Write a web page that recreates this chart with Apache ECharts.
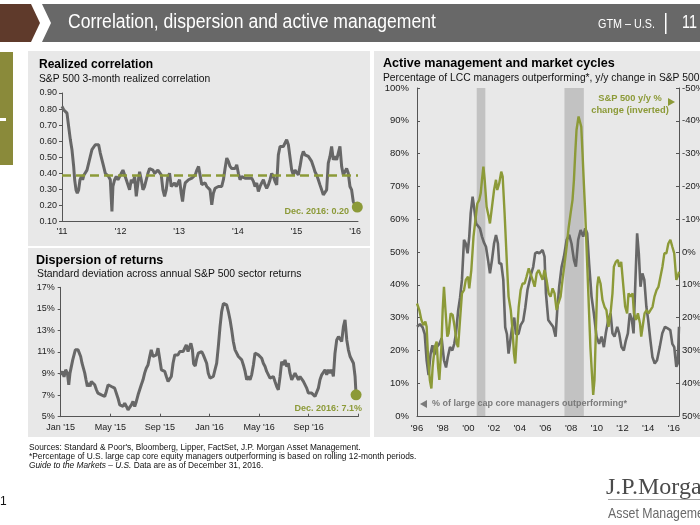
<!DOCTYPE html>
<html><head><meta charset="utf-8">
<script src="https://cdn.jsdelivr.net/npm/echarts@6/dist/echarts.min.js"></script>
<style>html,body{margin:0;padding:0;background:#fff}#c{width:700px;height:525px}</style>
</head><body><div id="c"></div>
<script>
// ---------- DATA ----------
const corrTicks = ["'11","'12","'13","'14","'15","'16"];
const corrAverage = 0.39;
const corrSeries = [[2011.000,0.817],[2011.028,0.796],[2011.057,0.80],[2011.085,0.775],[2011.114,0.69],[2011.142,0.61],[2011.170,0.547],[2011.199,0.443],[2011.216,0.36],[2011.239,0.297],[2011.261,0.276],[2011.284,0.297],[2011.307,0.36],[2011.330,0.38],[2011.352,0.36],[2011.375,0.39],[2011.398,0.38],[2011.426,0.42],[2011.455,0.463],[2011.483,0.505],[2011.511,0.547],[2011.540,0.536],[2011.568,0.578],[2011.597,0.588],[2011.625,0.578],[2011.653,0.526],[2011.682,0.484],[2011.710,0.443],[2011.739,0.40],[2011.767,0.39],[2011.795,0.38],[2011.824,0.36],[2011.852,0.162],[2011.869,0.318],[2011.898,0.36],[2011.926,0.38],[2011.955,0.36],[2011.983,0.38],[2012.011,0.40],[2012.040,0.42],[2012.068,0.43],[2012.097,0.36],[2012.125,0.37],[2012.153,0.297],[2012.182,0.36],[2012.210,0.34],[2012.239,0.38],[2012.267,0.256],[2012.295,0.34],[2012.324,0.41],[2012.352,0.36],[2012.381,0.297],[2012.409,0.318],[2012.438,0.36],[2012.466,0.40],[2012.494,0.43],[2012.523,0.43],[2012.551,0.42],[2012.580,0.40],[2012.608,0.41],[2012.636,0.42],[2012.665,0.41],[2012.693,0.39],[2012.722,0.297],[2012.750,0.256],[2012.778,0.297],[2012.807,0.38],[2012.835,0.40],[2012.864,0.318],[2012.892,0.318],[2012.920,0.34],[2012.949,0.318],[2012.977,0.318],[2013.006,0.36],[2013.034,0.276],[2013.057,0.224],[2013.080,0.297],[2013.102,0.34],[2013.131,0.35],[2013.159,0.36],[2013.188,0.36],[2013.216,0.37],[2013.244,0.38],[2013.273,0.39],[2013.301,0.42],[2013.330,0.443],[2013.384,0.33],[2013.413,0.318],[2013.441,0.34],[2013.470,0.318],[2013.498,0.328],[2013.526,0.297],[2013.555,0.204],[2013.583,0.276],[2013.612,0.307],[2013.640,0.307],[2013.668,0.318],[2013.697,0.307],[2013.725,0.318],[2013.754,0.36],[2013.782,0.43],[2013.811,0.495],[2013.839,0.474],[2013.867,0.443],[2013.896,0.43],[2013.924,0.42],[2013.953,0.43],[2013.981,0.453],[2014.009,0.40],[2014.038,0.36],[2014.066,0.38],[2014.095,0.37],[2014.123,0.37],[2014.151,0.38],[2014.180,0.37],[2014.208,0.36],[2014.237,0.37],[2014.265,0.35],[2014.293,0.318],[2014.322,0.34],[2014.350,0.287],[2014.379,0.318],[2014.407,0.34],[2014.436,0.36],[2014.464,0.328],[2014.492,0.307],[2014.521,0.328],[2014.549,0.36],[2014.578,0.40],[2014.606,0.38],[2014.634,0.35],[2014.663,0.328],[2014.691,0.515],[2014.720,0.567],[2014.748,0.578],[2014.776,0.567],[2014.805,0.578],[2014.833,0.609],[2014.862,0.578],[2014.890,0.567],[2014.919,0.42],[2014.947,0.39],[2014.975,0.42],[2015.004,0.41],[2015.032,0.39],[2015.061,0.443],[2015.089,0.505],[2015.117,0.536],[2015.146,0.515],[2015.174,0.515],[2015.203,0.505],[2015.231,0.495],[2015.259,0.474],[2015.288,0.443],[2015.316,0.41],[2015.345,0.39],[2015.373,0.36],[2015.401,0.328],[2015.430,0.297],[2015.458,0.266],[2015.487,0.266],[2015.515,0.297],[2015.543,0.463],[2015.572,0.505],[2015.600,0.567],[2015.629,0.484],[2015.657,0.505],[2015.685,0.484],[2015.714,0.484],[2015.742,0.567],[2015.771,0.443],[2015.799,0.39],[2015.827,0.40],[2015.856,0.43],[2015.884,0.40],[2015.913,0.318],[2015.941,0.297],[2015.969,0.224],[2015.998,0.204],[2016.038,0.19]];

const dispTicks = ["Jan '15","May '15","Sep '15","Jan '16","May '16","Sep '16"];
const dispSeries = [[0,8.88],[0.13,9.2],[0.27,8.7],[0.4,9.35],[0.54,9.04],[0.65,7.96],[0.75,9.04],[0.86,8.88],[0.97,10.27],[1.08,10.27],[1.18,11.2],[1.29,11.04],[1.4,11.2],[1.5,11.35],[1.61,10.58],[1.72,9.96],[1.83,9.5],[1.94,9.04],[2.04,8.42],[2.15,7.8],[2.26,8.11],[2.37,7.8],[2.47,8.27],[2.6,8.42],[2.74,7.96],[2.88,7.5],[3.0,7.19],[3.15,7.19],[3.28,7.03],[3.41,7.19],[3.55,6.88],[3.68,7.34],[3.82,7.96],[3.95,8.11],[4.09,7.8],[4.22,7.8],[4.35,7.65],[4.5,7.5],[4.62,6.72],[4.76,6.1],[4.9,6.26],[5.03,5.95],[5.16,6.26],[5.3,5.95],[5.43,5.64],[5.56,5.8],[5.7,6.1],[5.83,6.41],[5.97,5.95],[6.1,6.41],[6.24,7.03],[6.37,7.5],[6.5,7.96],[6.64,8.42],[6.77,9.04],[6.9,9.5],[7.04,9.8],[7.18,10.58],[7.3,11.2],[7.45,10.58],[7.58,10.42],[7.71,10.73],[7.85,11.35],[7.98,11.2],[8.12,9.35],[8.25,9.2],[8.39,9.2],[8.52,8.73],[8.66,8.27],[8.79,8.42],[8.92,8.73],[9.06,9.96],[9.2,10.73],[9.33,10.89],[9.46,10.73],[9.6,11.04],[9.73,11.2],[9.87,11.04],[10.0,11.35],[10.13,11.66],[10.27,11.04],[10.4,11.5],[10.5,11.8],[10.62,11.2],[10.72,9.9],[10.85,9.7],[10.97,10.4],[11.1,10.89],[11.24,10.73],[11.37,11.04],[11.5,10.73],[11.64,10.58],[11.77,9.96],[11.9,9.04],[12.04,8.58],[12.18,8.42],[12.31,8.73],[12.44,9.35],[12.58,9.96],[12.71,11.5],[12.85,13.36],[12.98,14.75],[13.12,15.5],[13.25,15.67],[13.39,15.36],[13.52,14.75],[13.66,13.97],[13.79,13.05],[13.92,11.97],[14.06,11.2],[14.2,11.04],[14.33,10.58],[14.46,10.58],[14.6,10.27],[14.73,9.8],[14.87,9.2],[15.0,8.42],[15.13,8.73],[15.27,8.42],[15.4,8.88],[15.54,9.8],[15.67,10.89],[15.8,11.04],[15.94,10.73],[16.07,10.73],[16.21,10.42],[16.34,9.96],[16.48,9.65],[16.61,9.2],[16.75,8.88],[16.88,8.58],[17.02,8.58],[17.15,8.73],[17.28,8.27],[17.42,7.8],[17.55,7.5],[17.69,8.73],[17.82,10.11],[17.96,9.8],[18.09,10.27],[18.23,9.65],[18.36,9.96],[18.49,9.04],[18.63,8.42],[18.76,8.73],[18.9,9.04],[19.03,8.88],[19.17,8.42],[19.3,8.73],[19.44,8.88],[19.57,8.27],[19.7,8.11],[19.84,7.65],[19.97,7.19],[20.11,7.03],[20.24,7.19],[20.38,7.03],[20.51,6.88],[20.64,6.88],[20.78,7.65],[20.91,8.42],[21.05,8.88],[21.18,8.88],[21.32,9.35],[21.45,8.88],[21.59,9.35],[21.72,9.04],[21.86,9.35],[21.99,8.73],[22.12,10.89],[22.26,12.12],[22.4,12.43],[22.53,12.28],[22.66,11.97],[22.8,13.36],[22.93,13.97],[23.07,12.12],[23.2,11.2],[23.34,10.58],[23.47,10.42],[23.61,9.96],[23.74,8.73],[23.82,7.03]];

const activeTicks = ["'96","'98","'00","'02","'04","'06","'08","'10","'12","'14","'16"];
const recessions = [[2000.65, 2001.32], [2007.48, 2008.99]];
const managersOutperforming = [[1996.0,27.2],[1996.23,28],[1996.44,27],[1996.6,25],[1996.75,17],[1996.9,12.5],[1997.06,19],[1997.2,21.6],[1997.35,18.6],[1997.53,21],[1997.74,22],[1997.92,23.7],[1998.1,17],[1998.26,14.8],[1998.4,18],[1998.57,21],[1998.75,20],[1998.9,22],[1999.03,25],[1999.2,32],[1999.35,36],[1999.5,41.5],[1999.66,53.7],[1999.8,52.6],[1999.94,49.6],[2000.07,54.7],[2000.18,61.8],[2000.33,66.9],[2000.44,63.8],[2000.6,58.7],[2000.75,58.7],[2000.9,57.2],[2001.06,54.7],[2001.2,53],[2001.37,51.6],[2001.53,47.6],[2001.68,43.5],[2001.84,47.6],[2002.0,52.6],[2002.15,55.2],[2002.3,52.6],[2002.4,46.5],[2002.56,46.5],[2002.72,41.5],[2002.87,27],[2003.0,25],[2003.13,19],[2003.3,24],[2003.44,28],[2003.57,30],[2003.7,25],[2003.9,25],[2004.07,27.7],[2004.27,29],[2004.43,33],[2004.6,38.4],[2004.74,38.4],[2004.9,43.5],[2005.05,45.5],[2005.2,49.6],[2005.36,50],[2005.52,49.6],[2005.78,50.6],[2005.93,48.6],[2006.04,37.4],[2006.22,29.3],[2006.4,28.3],[2006.6,27.2],[2006.79,24.2],[2006.92,32.3],[2007.07,39.4],[2007.26,45.5],[2007.44,48.6],[2007.65,53.7],[2007.85,55.2],[2008.03,52.6],[2008.22,47.6],[2008.37,45.5],[2008.55,53.7],[2008.74,56.7],[2008.94,54.7],[2009.1,57.2],[2009.25,55.7],[2009.4,46.5],[2009.59,36.4],[2009.77,31.3],[2009.98,24.2],[2010.18,22],[2010.37,24.2],[2010.55,21],[2010.7,25.2],[2010.89,29.3],[2011.07,31.3],[2011.22,25.2],[2011.38,24.2],[2011.59,27.2],[2011.74,25.2],[2011.92,21],[2012.1,20],[2012.26,23],[2012.42,25.2],[2012.57,31.3],[2012.73,29.3],[2012.86,25.2],[2012.99,39.4],[2013.14,55.7],[2013.27,49.6],[2013.4,39.4],[2013.55,43.5],[2013.7,41.5],[2013.86,33.3],[2014.0,29.3],[2014.17,23.2],[2014.33,18],[2014.51,16],[2014.69,17],[2014.9,21],[2015.1,25.2],[2015.31,27.2],[2015.52,26.7],[2015.72,26.2],[2015.88,22],[2016.03,21],[2016.19,15],[2016.3,16],[2016.4,27.2]];
const spxYoY = [[1996.0,15.7],[1996.18,17.7],[1996.34,20.7],[1996.5,22.3],[1996.65,21.2],[1996.75,22.8],[1996.86,32],[1997.0,39],[1997.12,41.6],[1997.22,35],[1997.38,29],[1997.53,27.3],[1997.64,35],[1997.74,39],[1997.9,29],[1998.0,17.7],[1998.1,10.6],[1998.2,16.7],[1998.36,25.8],[1998.46,24.8],[1998.62,18.7],[1998.78,19.2],[1998.93,22.8],[1999.1,28],[1999.2,29],[1999.35,20.7],[1999.5,12.6],[1999.66,11.6],[1999.8,8.5],[1999.97,7.5],[2000.07,11.1],[2000.23,5.5],[2000.4,-4.7],[2000.55,-9.8],[2000.7,-14.8],[2000.85,-15.9],[2000.96,-17.9],[2001.06,-22],[2001.17,-26],[2001.27,-22],[2001.42,-13.8],[2001.58,-10.8],[2001.68,-8.7],[2001.84,-13.8],[2002.0,-18.9],[2002.15,-22],[2002.25,-18.9],[2002.4,-20.9],[2002.56,-24.5],[2002.67,-23],[2002.82,-11.8],[2003.0,3.5],[2003.13,13.6],[2003.3,17.7],[2003.44,23.8],[2003.55,31],[2003.65,34],[2003.77,25.8],[2003.92,16.7],[2004.07,11.6],[2004.22,9.6],[2004.38,9.6],[2004.53,7.5],[2004.7,5],[2004.85,5.5],[2005.0,8.5],[2005.16,10.6],[2005.32,6.5],[2005.47,5.5],[2005.6,6],[2005.78,8.5],[2005.93,5.5],[2006.09,8.5],[2006.25,12.6],[2006.4,13.6],[2006.56,11.1],[2006.71,12.6],[2006.87,17.7],[2007.0,15.7],[2007.18,13.6],[2007.33,8.5],[2007.49,3.5],[2007.65,-1.6],[2007.8,-7.2],[2007.96,-11.8],[2008.11,-15.9],[2008.22,-22],[2008.32,-30],[2008.42,-37.2],[2008.58,-41.3],[2008.68,-41.3],[2008.79,-38.2],[2008.89,-30],[2008.99,-21],[2009.1,-11.8],[2009.2,-1.6],[2009.3,8.5],[2009.4,18.7],[2009.5,29],[2009.62,37],[2009.72,43.6],[2009.82,39],[2009.93,23.8],[2010.03,10.6],[2010.13,7.5],[2010.29,9.6],[2010.44,14.6],[2010.6,16.7],[2010.75,17.7],[2010.91,22.8],[2011.07,18.7],[2011.22,12.6],[2011.33,4.5],[2011.48,3],[2011.64,2.4],[2011.74,4.5],[2011.9,3],[2012.05,3.5],[2012.21,16.7],[2012.36,18.7],[2012.47,12.6],[2012.63,13.6],[2012.79,12.6],[2012.89,18.7],[2013.05,20.7],[2013.2,18.7],[2013.36,21.7],[2013.46,25.8],[2013.57,22.8],[2013.72,18.7],[2013.88,17.7],[2014.03,18.7],[2014.18,17.7],[2014.34,16.7],[2014.49,13.6],[2014.65,11.6],[2014.8,10.6],[2014.96,7.5],[2015.11,4.5],[2015.26,0.4],[2015.42,0.4],[2015.57,-2.6],[2015.73,-3.7],[2015.88,-1.6],[2016.03,0.4],[2016.19,8.5],[2016.3,7.5],[2016.4,6]];

// ---------- STYLE ----------
const GRAY = '#676767', OLIVE = '#8c9a38', AX = '#555';
const FF = "'Liberation Sans', Arial, sans-serif";
const NARROW = "'Liberation Sans Narrow', 'Arial Narrow', 'Liberation Sans', sans-serif";
const lbl = (extra) => Object.assign({fontSize: 9, color: '#222', fontFamily: FF}, extra);
const axLine = {show: true, lineStyle: {color: AX, width: 1}};

const chart = echarts.init(document.getElementById('c'), null, {renderer: 'canvas'});
const T = (x, y, text, font, fill, align, extra) => Object.assign({type: 'text', x, y, z: 100,
  style: {text, font, fill, textAlign: align || 'left', textVerticalAlign: 'middle'}}, extra || {});

const graphic = [
  // header
  {type:'polygon', z:0, shape:{points:[[0,4],[31,4],[40,23],[31,42],[0,42]]}, style:{fill:'#5f3a2b'}},
  {type:'polygon', z:0, shape:{points:[[42,4],[700,4],[700,42],[42,42],[51,23]]}, style:{fill:'#686868'}},
  T(68, 23, 'Correlation, dispersion and active management', "19.5px " + NARROW, '#fff', 'left', {scaleX: 0.9}),
  T(598, 24, 'GTM – U.S.', "13.5px " + NARROW, '#fff', 'left', {scaleX: 0.8}),
  {type:'rect', z:1, shape:{x:665, y:13, width:1.5, height:21}, style:{fill:'#fff'}},
  T(682, 23, '11', "18px " + NARROW, '#fff', 'left', {scaleX: 0.8}),
  // left olive tab
  {type:'rect', z:0, shape:{x:0, y:52, width:13, height:113}, style:{fill:'#8a8a3a'}},
  {type:'rect', z:1, shape:{x:0, y:118, width:6, height:3}, style:{fill:'#fff'}},
  // panels
  {type:'rect', z:-10, shape:{x:28, y:51, width:342, height:195}, style:{fill:'#e8e8e8'}},
  {type:'rect', z:-10, shape:{x:28, y:248, width:342, height:189}, style:{fill:'#e8e8e8'}},
  {type:'rect', z:-10, shape:{x:374, y:51, width:326, height:386}, style:{fill:'#e8e8e8'}},
  // panel titles
  T(39, 65, 'Realized correlation', "bold 12px " + FF, '#000'),
  T(39, 79, 'S&P 500 3-month realized correlation', "10.3px " + FF, '#111'),
  T(36, 261, 'Dispersion of returns', "bold 12.6px " + FF, '#000'),
  T(37, 274, 'Standard deviation across annual S&P 500 sector returns', "10.4px " + FF, '#111'),
  T(383, 64, 'Active management and market cycles', "bold 12.6px " + FF, '#000'),
  T(383, 78, 'Percentage of LCC managers outperforming*, y/y change in S&P 500', "10.3px " + FF, '#111'),
  // annotations
  T(349, 212, 'Dec. 2016: 0.20', "bold 9px " + FF, OLIVE, 'right'),
  T(362, 409, 'Dec. 2016: 7.1%', "bold 9px " + FF, OLIVE, 'right'),
  T(630, 98, 'S&P 500 y/y %', "bold 9.3px " + FF, OLIVE, 'center'),
  T(630, 110, 'change (inverted)', "bold 9.3px " + FF, OLIVE, 'center'),
  {type:'polygon', z:100, shape:{points:[[668,98],[675,102],[668,106]]}, style:{fill:OLIVE}},
  {type:'polygon', z:100, shape:{points:[[427,400],[420,404],[427,408]]}, style:{fill:'#7a7a7a'}},
  T(432, 404, '% of large cap core managers outperforming*', "bold 9px " + FF, '#7a7a7a'),
  // footer
  T(29, 448, "Sources: Standard & Poor's, Bloomberg, Lipper, FactSet, J.P. Morgan Asset Management.", "8.3px " + FF, '#111'),
  T(29, 457, '*Percentage of U.S. large cap core equity managers outperforming is based on rolling 12-month periods.', "8.4px " + FF, '#111'),
  {type:'text', x:29, y:466, z:100, style:{text:'{i|Guide to the Markets – U.S.} Data are as of December 31, 2016.', font:"8.3px " + FF, fill:'#111', textVerticalAlign:'middle',
     rich:{i:{fontStyle:'italic', fontSize:8.3, fontFamily:FF, fill:'#111'}}}},
  T(0, 502, '1', "12px " + FF, '#111'),
  // logo
  T(606, 488, 'J.P.Morgan', "24px 'Liberation Serif', serif", '#4a4a4a'),
  {type:'rect', z:1, shape:{x:608, y:499, width:92, height:0.8}, style:{fill:'#888'}},
  T(608, 514, 'Asset Management', "14.5px " + NARROW, '#6a6a6a', 'left', {scaleX: 0.85})
];

const option = {
  animation: false,
  backgroundColor: '#ffffff',
  textStyle: {fontFamily: FF},
  graphic: graphic,
  grid: [
    {left: 62, top: 93, width: 296, height: 128.5, outerBoundsMode: 'none', containLabel: false},
    {left: 60.7, top: 287.3, width: 297.6, height: 129.4, outerBoundsMode: 'none', containLabel: false},
    {left: 417, top: 88, width: 262, height: 328, outerBoundsMode: 'none', containLabel: false}
  ],
  xAxis: [
    {gridIndex: 0, type: 'value', min: 2011, max: 2016.05, interval: 1, axisLine: axLine, axisTick: {show: false}, splitLine: {show: false},
      axisLabel: lbl({margin: 6, formatter: v => corrTicks[Math.round(v - 2011)] !== undefined && Math.abs(v - Math.round(v)) < 1e-6 ? corrTicks[Math.round(v - 2011)] : ''})},
    {gridIndex: 1, type: 'value', min: 0, max: 24, interval: 4, axisLine: axLine, axisTick: {show: true, inside: true, length: 3, lineStyle: {color: AX}}, splitLine: {show: false},
      axisLabel: lbl({margin: 6, formatter: v => dispTicks[v / 4] || ''})},
    {gridIndex: 2, type: 'value', min: 1996, max: 2016.4, interval: 2, axisLine: axLine, axisTick: {show: false}, splitLine: {show: false},
      axisLabel: lbl({margin: 7, fontSize: 9.5, formatter: v => Math.abs(v - Math.round(v)) < 1e-6 ? (activeTicks[(Math.round(v) - 1996) / 2] || '') : ''})}
  ],
  yAxis: [
    {gridIndex: 0, type: 'value', min: 0.1, max: 0.9, interval: 0.1, axisLine: axLine, axisTick: {show: true, length: 3, lineStyle: {color: AX}}, splitLine: {show: false},
      axisLabel: lbl({margin: 5, formatter: v => v.toFixed(2)})},
    {gridIndex: 1, type: 'value', min: 5, max: 17, interval: 2, axisLine: axLine, axisTick: {show: true, length: 3, lineStyle: {color: AX}}, splitLine: {show: false},
      axisLabel: lbl({margin: 6, formatter: v => v + '%'})},
    {gridIndex: 2, type: 'value', min: 0, max: 100, interval: 10, axisLine: axLine, axisTick: {show: true, inside: true, length: 3, lineStyle: {color: AX}}, splitLine: {show: false},
      axisLabel: lbl({margin: 8, fontSize: 9.5, formatter: v => v + '%'})},
    {gridIndex: 2, type: 'value', position: 'right', min: -50, max: 50, inverse: true, interval: 10, axisLine: axLine, axisTick: {show: true, inside: true, length: 3, lineStyle: {color: AX}}, splitLine: {show: false},
      axisLabel: lbl({margin: 3, fontSize: 9.5, formatter: v => v + '%'})}
  ],
  series: [
    {type: 'line', xAxisIndex: 0, yAxisIndex: 0, data: corrSeries, showSymbol: false, z: 3,
      lineStyle: {color: GRAY, width: 3}, itemStyle: {color: GRAY},
      markLine: {silent: true, symbol: 'none', label: {show: false}, z: 4,
        lineStyle: {color: OLIVE, width: 2.5, type: [9, 5]}, data: [{yAxis: corrAverage}]}},
    {type: 'scatter', xAxisIndex: 0, yAxisIndex: 0, data: [corrSeries[corrSeries.length - 1]], symbolSize: 11, z: 6, itemStyle: {color: OLIVE, opacity: 1}},
    {type: 'line', xAxisIndex: 1, yAxisIndex: 1, data: dispSeries, showSymbol: false, z: 3, lineStyle: {color: GRAY, width: 3}, itemStyle: {color: GRAY}},
    {type: 'scatter', xAxisIndex: 1, yAxisIndex: 1, data: [dispSeries[dispSeries.length - 1]], symbolSize: 11, z: 6, itemStyle: {color: OLIVE, opacity: 1}},
    {type: 'line', xAxisIndex: 2, yAxisIndex: 2, data: [], z: 1,
      markArea: {silent: true, itemStyle: {color: '#c2c2c2'}, data: recessions.map(r => [{xAxis: r[0]}, {xAxis: r[1]}])}},
    {type: 'line', xAxisIndex: 2, yAxisIndex: 2, data: managersOutperforming, showSymbol: false, z: 3, lineStyle: {color: GRAY, width: 2.6}, itemStyle: {color: GRAY}},
    {type: 'line', xAxisIndex: 2, yAxisIndex: 3, data: spxYoY, showSymbol: false, z: 4, lineStyle: {color: OLIVE, width: 2.4}, itemStyle: {color: OLIVE}}
  ]
};
chart.setOption(option);
</script>
</body></html>
